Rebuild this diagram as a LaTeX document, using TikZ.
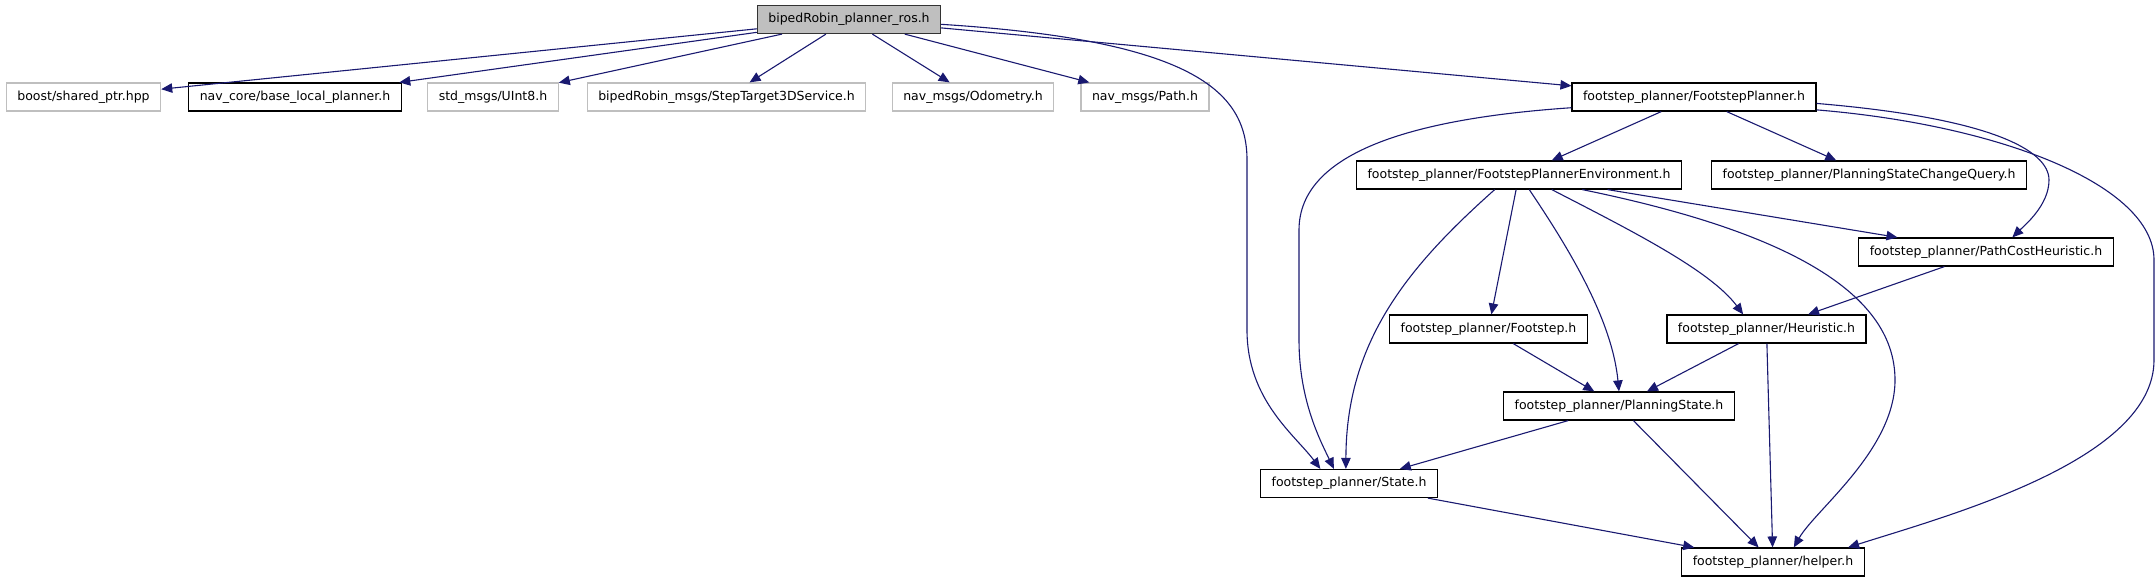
\documentclass[tikz,border=0pt]{standalone}
\usepackage{fontspec}
\setmainfont{DejaVu Sans}
\usetikzlibrary{arrows.meta}
\definecolor{edgeblue}{HTML}{191970}
\definecolor{sysgrey}{HTML}{BFBFBF}

\begin{document}
\begin{tikzpicture}[x=1pt, y=-1pt,
    hfile/.style={draw=black, line width=1.2pt, fill=white, minimum height=28pt,
      inner xsep=11pt, inner ysep=0pt, font=\fontsize{12.5}{14}\selectfont},
    sysfile/.style={hfile, draw=sysgrey},
    rootfile/.style={hfile, fill=sysgrey, draw=black!80},
    dep/.style={draw=edgeblue, line width=1.1pt, -{Triangle[length=11pt,width=9.5pt]}}]
  \useasboundingbox (0,0) rectangle (2156,581);

  % the header and what it includes
  \node[rootfile] (root) at (849,19.5) {bipedRobin\_planner\_ros.h};
  \node[sysfile] (boost) at (83.5,97) {boost/shared\_ptr.hpp};
  \node[hfile] (navcore) at (295,97) {nav\_core/base\_local\_planner.h};
  \node[sysfile] (uint8) at (493,97) {std\_msgs/UInt8.h};
  \node[sysfile] (steptarget) at (726.5,97) {bipedRobin\_msgs/StepTarget3DService.h};
  \node[sysfile] (odom) at (973,97) {nav\_msgs/Odometry.h};
  \node[sysfile] (path) at (1145,97) {nav\_msgs/Path.h};
  \node[hfile] (fp) at (1694,97) {footstep\_planner/FootstepPlanner.h};

  % footstep planner headers
  \node[hfile] (env) at (1519,175) {footstep\_planner/FootstepPlannerEnvironment.h};
  \node[hfile] (pscq) at (1869,175) {footstep\_planner/PlanningStateChangeQuery.h};
  \node[hfile] (pch) at (1986,252) {footstep\_planner/PathCostHeuristic.h};
  \node[hfile] (footstep) at (1488.5,329) {footstep\_planner/Footstep.h};
  \node[hfile] (heur) at (1766.5,329) {footstep\_planner/Heuristic.h};
  \node[hfile] (ps) at (1619,406) {footstep\_planner/PlanningState.h};
  \node[hfile] (state) at (1349,483.5) {footstep\_planner/State.h};
  \node[hfile] (helper) at (1773,562) {footstep\_planner/helper.h};

  \foreach \t in {boost,navcore,uint8,steptarget,odom,path,fp}
    \draw[dep] (root) -- (\t);
  \draw[dep] (root.-3) .. controls (1190,40) and (1247,90) .. (1247,160)
    -- (1247,330) .. controls (1247,400) and (1295,435) .. (state.153);

  \draw[dep] (fp) -- (env);
  \draw[dep] (fp) -- (pscq);
  \draw[dep] (fp.185) .. controls (1420,118) and (1299,150) .. (1299,230)
    -- (1299,340) .. controls (1299,400) and (1320,440) .. (state.136);
  \draw[dep] (fp.-3) .. controls (1990,118) and (2049,150) .. (2049,180)
    .. controls (2049,205) and (2025,225) .. (pch.29);
  \draw[dep] (fp.-6) .. controls (2000,125) and (2154,185) .. (2154,260)
    -- (2154,360) .. controls (2154,460) and (1950,515) .. (helper.11);

  \draw[dep] (env) -- (footstep);
  \draw[dep] (env) -- (pch);
  \draw[dep] (env.211) .. controls (1410,265) and (1346,340) .. (state.102);
  \draw[dep] (env.-55) .. controls (1570,250) and (1612,320) .. (ps.north);
  \draw[dep] (env.-24) .. controls (1630,230) and (1710,270) .. (heur.148);
  \draw[dep] (env.-13) .. controls (1780,230) and (1895,290) .. (1895,380)
    .. controls (1895,450) and (1815,510) .. (helper.35);

  \draw[dep] (pch) -- (heur);
  \draw[dep] (footstep) -- (ps);
  \draw[dep] (heur) -- (ps);
  \draw[dep] (heur) -- (helper);
  \draw[dep] (ps) -- (state);
  \draw[dep] (ps) -- (helper);
  \draw[dep] (state) -- (helper);
\end{tikzpicture}
\end{document}
